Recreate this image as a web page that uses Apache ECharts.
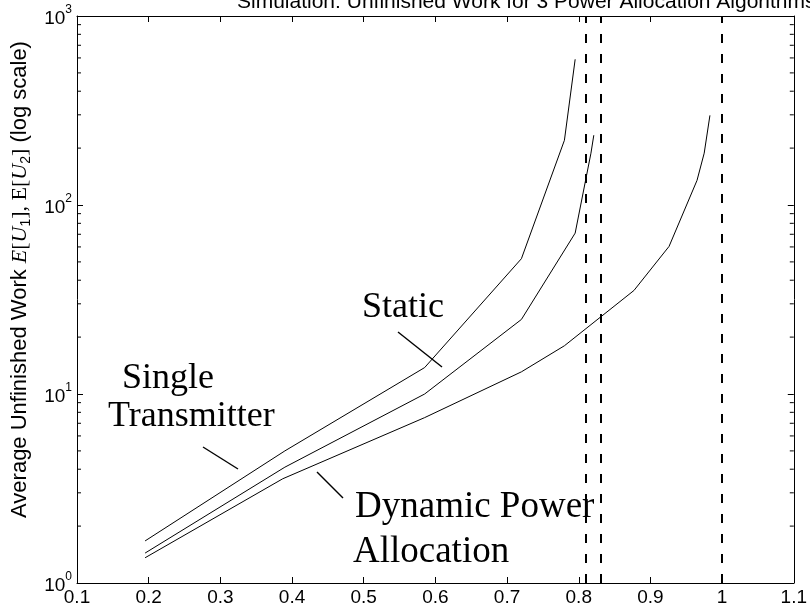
<!DOCTYPE html>
<html>
<head>
<meta charset="utf-8">
<script src="https://cdn.jsdelivr.net/npm/echarts@6/dist/echarts.min.js"></script>
<style>
  html, body { margin: 0; padding: 0; background: #fff; }
  #chart { width: 810px; height: 607px; }
</style>
</head>
<body>
<div id="chart"></div>
<script>
// load values (x) and unfinished work (y, log scale)
const singleX = [0.195, 0.39, 0.585, 0.72, 0.78, 0.795];
const singleY = [1.67, 5.0, 13.8, 52, 220, 590];

const staticX = [0.195, 0.39, 0.585, 0.72, 0.795, 0.817, 0.821];
const staticY = [1.44, 4.1, 10.0, 24.8, 71, 188, 234];

const dynamicX = [0.195, 0.387, 0.585, 0.72, 0.78, 0.877, 0.926, 0.965, 0.975, 0.983];
const dynamicY = [1.36, 3.56, 7.5, 13.1, 18, 35.3, 60.4, 135, 188, 298];

// stability limits (vertical dashed lines)
const limitX = [0.806, 0.833, 1.0];

// minor log ticks
const minorTicks = [2, 3, 4, 5, 6, 7, 8, 9, 20, 30, 40, 50, 60, 70, 80, 90, 200, 300, 400, 500, 600, 700, 800, 900];

const sans = '"Liberation Sans", Arial, sans-serif';
const serif = '"Liberation Serif", "Times New Roman", serif';

function pairs(xs, ys) {
  return xs.map((x, i) => [x, ys[i]]);
}

const chart = echarts.init(document.getElementById('chart'));

const blackLine = { color: '#000', width: 1 };

function curve(name, xs, ys, extra) {
  return Object.assign({
    name: name,
    type: 'line',
    data: pairs(xs, ys),
    showSymbol: false,
    symbol: 'none',
    lineStyle: blackLine,
    itemStyle: { color: '#000' },
    silent: true
  }, extra || {});
}

const option = {
  animation: false,
  backgroundColor: '#fff',
  grid: { left: 77, right: 15, top: 16, bottom: 24 },
  xAxis: [{
    type: 'value', min: 0.1, max: 1.1, interval: 0.1,
    axisLine: { lineStyle: blackLine },
    axisTick: { inside: true, length: 6, lineStyle: blackLine },
    splitLine: { show: false },
    axisLabel: {
      color: '#000', fontFamily: sans, fontSize: 19, margin: 5,
      formatter: v => String(+v.toFixed(1))
    }
  }, {
    type: 'value', position: 'top', min: 0.1, max: 1.1, interval: 0.1,
    axisLine: { lineStyle: blackLine },
    axisTick: { inside: true, length: 6, lineStyle: blackLine },
    splitLine: { show: false },
    axisLabel: { show: false }
  }],
  yAxis: [{
    type: 'log', logBase: 10, min: 1, max: 1000,
    axisLine: { lineStyle: blackLine },
    axisTick: { inside: true, length: 6, lineStyle: blackLine },
    splitLine: { show: false },
    minorTick: { show: false },
    axisLabel: {
      color: '#000', margin: 5,
      formatter: v => '{b|10}{e|' + Math.round(Math.log10(v)) + '}',
      rich: {
        b: { fontFamily: sans, fontSize: 19, lineHeight: 24, verticalAlign: 'bottom', color: '#000' },
        e: { fontFamily: sans, fontSize: 12, lineHeight: 12, verticalAlign: 'top', color: '#000' }
      }
    },
    name: '{s|Average Unfinished Work }{mi|E}{mr|[}{mi|U}{sub|1}{mr|], E[}{mi|U}{sub|2}{mr|]}{s| (log scale)}',
    nameLocation: 'middle',
    nameGap: 42,
    nameRotate: 90,
    nameTextStyle: {
      color: '#000',
      padding: [0, 0, 0, 40],
      rich: {
        s: { fontFamily: sans, fontSize: 22, lineHeight: 26, color: '#000' },
        mi: { fontFamily: serif, fontStyle: 'italic', fontSize: 22, lineHeight: 26, color: '#000' },
        mr: { fontFamily: serif, fontSize: 22, lineHeight: 26, color: '#000' },
        sub: { fontFamily: sans, fontSize: 14, lineHeight: 12, verticalAlign: 'bottom', color: '#000' }
      }
    }
  }, {
    type: 'log', logBase: 10, min: 1, max: 1000, position: 'right',
    axisLine: { lineStyle: blackLine },
    axisTick: { inside: true, length: 6, lineStyle: blackLine },
    splitLine: { show: false },
    axisLabel: { show: false }
  }],
  graphic: [
    { type: 'text', x: 237, y: -8, z: 100,
      style: { text: 'Simulation: Unfinished Work for 3 Power Allocation Algorithms', font: '21px ' + sans, fill: '#000' } },
    { type: 'text', x: 362, y: 290, style: { text: 'Static', font: '36px ' + serif, fill: '#000' } },
    { type: 'text', x: 122, y: 361, style: { text: 'Single', font: '36px ' + serif, fill: '#000' } },
    { type: 'text', x: 108, y: 399, style: { text: 'Transmitter', font: '36px ' + serif, fill: '#000' } },
    { type: 'text', x: 355, y: 489, style: { text: 'Dynamic Power', font: '37px ' + serif, fill: '#000' } },
    { type: 'text', x: 353, y: 534, style: { text: 'Allocation', font: '37px ' + serif, fill: '#000' } },
    { type: 'line', shape: { x1: 398, y1: 332, x2: 442, y2: 367 }, style: { stroke: '#000', lineWidth: 1.4 } },
    { type: 'line', shape: { x1: 203, y1: 447, x2: 238, y2: 469 }, style: { stroke: '#000', lineWidth: 1.4 } },
    { type: 'line', shape: { x1: 317, y1: 472, x2: 343, y2: 498 }, style: { stroke: '#000', lineWidth: 1.4 } }
  ],
  series: [
    curve('Single Transmitter', singleX, singleY, {
      markLine: {
        silent: true,
        symbol: ['none', 'none'],
        label: { show: false },
        lineStyle: { color: '#000', type: [9, 11], width: 2 },
        data: limitX.map(x => ({ xAxis: x }))
      }
    }),
    curve('Static', staticX, staticY),
    curve('Dynamic Power Allocation', dynamicX, dynamicY),
    {
      type: 'custom',
      silent: true,
      data: minorTicks.map(v => [0.1, v]),
      renderItem: function (params, api) {
        const y = api.coord([0.1, api.value(1)])[1];
        const left = params.coordSys.x;
        const right = left + params.coordSys.width;
        return {
          type: 'group',
          children: [
            { type: 'line', shape: { x1: left, y1: y, x2: left + 4, y2: y }, style: { stroke: '#000', lineWidth: 1 } },
            { type: 'line', shape: { x1: right - 4, y1: y, x2: right, y2: y }, style: { stroke: '#000', lineWidth: 1 } }
          ]
        };
      }
    }
  ]
};

chart.setOption(option);
</script>
</body>
</html>
